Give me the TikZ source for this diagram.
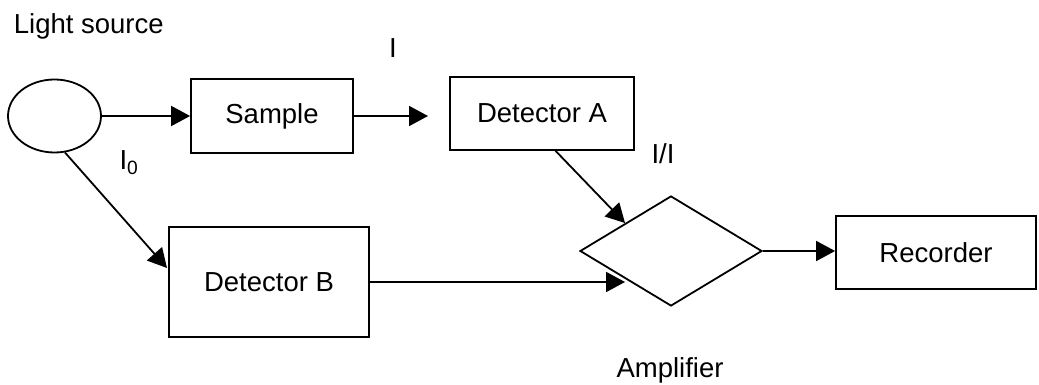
\documentclass[tikz,border=0pt]{standalone}
\usepackage{fontspec}
\setmainfont{Liberation Sans}
\usetikzlibrary{calc,shapes.geometric,arrows.meta}
\tikzset{tight/.style={inner sep=2pt}}
\tikzset{blockbox/.style={draw, rectangle, line width=1.8pt}}

\begin{document}
\begin{tikzpicture}[style=tight, x=1pt, y=-1pt, line width=1.8pt,
    >={Triangle[length=19pt,width=20pt]},
    font=\fontsize{27.5}{32}\selectfont]
          \useasboundingbox (0,0) rectangle (1039,385);

          \node at (11, 26) [anchor=west] (lbl) {Light source};
          \node at (54.5, 116) [draw, ellipse, minimum width=93pt, minimum height=73pt] (src) {};
          \node at (272, 116) [blockbox, minimum width=162pt, minimum height=74pt] (sample) {Sample};
          \node at (542, 113.5) [blockbox, minimum width=184pt, minimum height=73pt] (detA) {Detector A};
          \node at (269, 282) [blockbox, minimum width=200pt, minimum height=110pt] (detB) {Detector B};
          \node at (671, 251) [draw, diamond, inner sep=0pt, minimum width=182pt, minimum height=110pt] (amp) {};
          \node at (936, 252.5) [blockbox, minimum width=200pt, minimum height=73pt] (rec) {Recorder};

          % labels
          \node at (393, 48) (i) {I};
          \node at (129, 163) (i0) {I\textsubscript{0}};
          \node at (663, 154) (ratio) {I/I};
          \node at (670, 370) (amplbl) {Amplifier};

          \coordinate (intoA) at (428, 116);
          \coordinate (intoB) at (167, 268);

          \draw[->] (src.east) -- (sample.west);
          \draw[->] (sample.east) -- (intoA);
          \draw[->] (src.-74) -- (intoB);
          \draw[->] (detA.-70) -- (amp.north west);
          \draw[->] (detB.east) -- (detB.east -| amp.south west);
          \draw[->] (amp.east) -- (amp.east -| rec.west);
        \end{tikzpicture}
\end{document}
